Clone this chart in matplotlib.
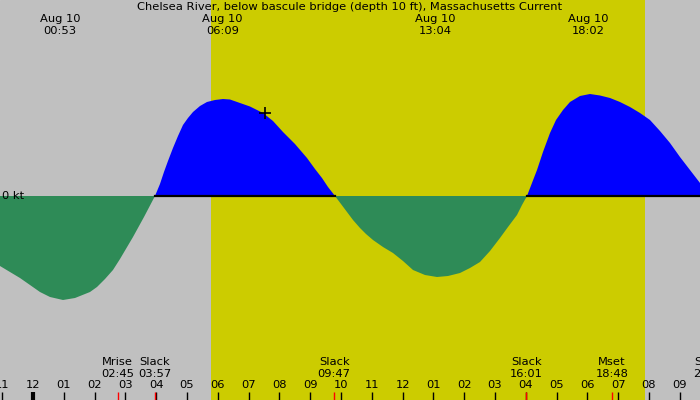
import numpy as np
import matplotlib
matplotlib.use('Agg')
import matplotlib.pyplot as plt

# Tidal current, hours since midnight Aug 10 vs speed in knots
hours = [-1.071, -0.747, -0.422, -0.097, 0.227, 0.552, 0.974, 1.364, 1.851, 2.078,
         2.338, 2.597, 2.825, 3.247, 3.604, 3.961,
         4.123, 4.253, 4.383, 4.545, 4.708, 4.870, 5.032, 5.195, 5.422, 5.649,
         5.909, 6.169, 6.396, 6.721, 7.045, 7.468, 7.792, 8.117, 8.506, 8.896,
         9.156, 9.383, 9.578, 9.805,
         10.0, 10.195, 10.390, 10.617, 10.812, 11.039, 11.364, 11.688, 12.013, 12.338,
         12.727, 13.117, 13.474, 13.864, 14.188, 14.513, 14.838, 15.162, 15.422, 15.714,
         15.877, 16.039,
         16.201, 16.364, 16.558, 16.786, 16.981, 17.208, 17.435, 17.760, 18.084, 18.409,
         18.734, 19.058, 19.383, 19.708, 20.032, 20.357, 20.682, 20.844, 21.006, 21.331,
         21.656]
speed = [-0.35, -0.38, -0.41, -0.445, -0.48, -0.505, -0.52, -0.51, -0.48, -0.455,
         -0.415, -0.37, -0.315, -0.205, -0.105, 0.0,
         0.06, 0.12, 0.175, 0.24, 0.30, 0.355, 0.39, 0.42, 0.45, 0.47,
         0.48, 0.485, 0.4825, 0.465, 0.4475, 0.415, 0.375, 0.32, 0.26, 0.19,
         0.135, 0.09, 0.045, 0.0,
         -0.04, -0.08, -0.12, -0.16, -0.19, -0.22, -0.255, -0.285, -0.325, -0.37,
         -0.395, -0.405, -0.40, -0.385, -0.36, -0.33, -0.275, -0.21, -0.155, -0.095,
         -0.045, 0.0,
         0.065, 0.13, 0.22, 0.315, 0.38, 0.43, 0.47, 0.50, 0.51, 0.5025,
         0.49, 0.47, 0.445, 0.415, 0.38, 0.325, 0.265, 0.23, 0.195, 0.13,
         0.065]

# max / min current labels on top
peak_hours = [0.88, 6.15, 13.07, 18.03]
peak_labels = ['00:53', '06:09', '13:04', '18:02']

# events on the bottom
event_hours = [2.75, 3.95, 9.78, 16.02, 18.80, 21.98]
event_names = ['Mrise', 'Slack', 'Slack', 'Slack', 'Mset', 'Slack']
event_times = ['02:45', '03:57', '09:47', '16:01', '18:48', '21:58']

sunrise = 5.78
sunset = 19.87
now_hour, now_speed = 7.53, 0.415

t = np.array(hours)
v = np.array(speed)

fig = plt.figure(figsize=(7, 4), dpi=100)
ax = fig.add_axes([0, 0, 1, 1])
ax.set_xlim(-1.071, 21.656)
ax.set_ylim(-1.02, 0.98)
ax.axis('off')
ax.add_patch(plt.Rectangle((0, 0), 1, 1, transform=ax.transAxes, color='#c0c0c0', zorder=0))

ax.axvspan(sunrise, sunset, color='#cccc00', zorder=1, lw=0)
ax.fill_between(t, v, 0, where=v >= 0, color='#0000ff', lw=0, zorder=2)
ax.fill_between(t, v, 0, where=v <= 0, color='#2e8b57', lw=0, zorder=2)
ax.plot(t, np.where(v >= 0, 0, np.nan), color='k', lw=1.6, zorder=3)
ax.plot([now_hour], [now_speed], marker='+', color='k', ms=9, mew=1.2, zorder=4)

tx = ax.get_xaxis_transform()
fs = 8.25

ax.text(0.5, 1 - 7/400, 'Chelsea River, below bascule bridge (depth 10 ft), Massachusetts Current',
        transform=ax.transAxes, ha='center', va='center', fontsize=fs)
for h, lab in zip(peak_hours, peak_labels):
    ax.text(h, 1 - 19/400, 'Aug 10', transform=tx, ha='center', va='center', fontsize=fs)
    ax.text(h, 1 - 31/400, lab, transform=tx, ha='center', va='center', fontsize=fs)

ax.text(0.003, 0, '0 kt', transform=ax.get_yaxis_transform(), ha='left', va='center', fontsize=fs)

# hour ticks
tick_hours = np.arange(-1, 22)
ax.vlines(tick_hours, 0, 8/400, transform=tx, color='k', lw=1, zorder=5)
ax.vlines([0], 0, 8/400, transform=tx, color='k', lw=3, zorder=5)
for h in tick_hours:
    lab = '%02d' % (h % 12 if h % 12 else 12)
    ax.text(h, 1 - 385/400, lab, transform=tx, ha='center', va='center', fontsize=fs)

ax.vlines(event_hours, 0, 8/400, transform=tx, color='#ff0000', lw=1, zorder=6)
for h, n, s in zip(event_hours, event_names, event_times):
    ax.text(h, 1 - 362/400, n, transform=tx, ha='center', va='center', fontsize=fs)
    ax.text(h, 1 - 374/400, s, transform=tx, ha='center', va='center', fontsize=fs)

fig.savefig('out.png', dpi=100)
